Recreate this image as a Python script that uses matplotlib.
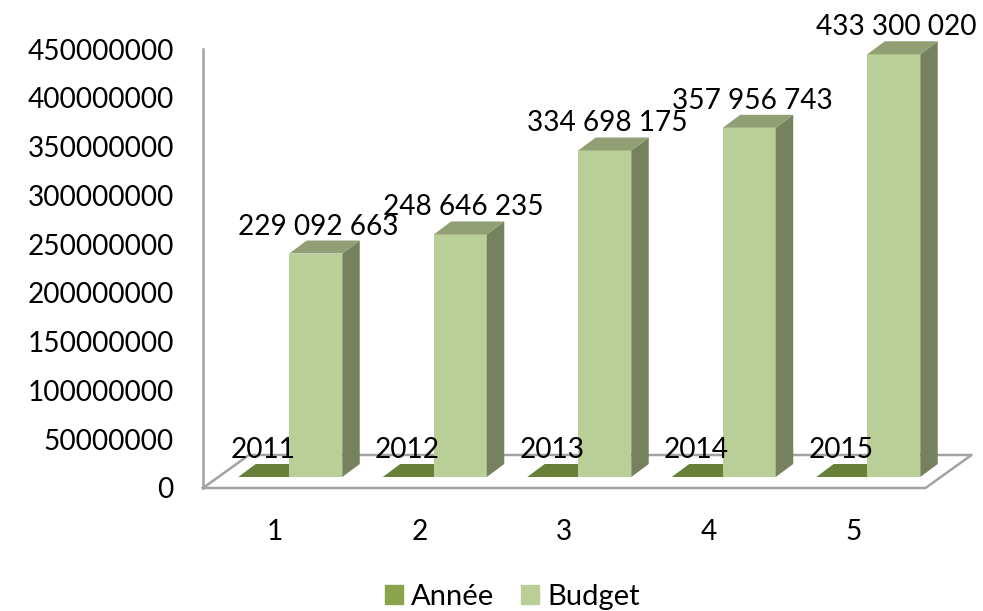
import matplotlib
matplotlib.use("Agg")
import matplotlib.pyplot as plt
from matplotlib.patches import Patch

categories = [1, 2, 3, 4, 5]
annee = [2011, 2012, 2013, 2014, 2015]
budget = [229092663, 248646235, 334698175, 357956743, 433300020]
budget_labels = ["229 092 663", "248 646 235", "334 698 175", "357 956 743", "433 300 020"]
y_ticks = [0, 50000000, 100000000, 150000000, 200000000, 250000000,
           300000000, 350000000, 400000000, 450000000]

W, H = 983, 611
plt.rcParams["font.family"] = ["Lato", "DejaVu Sans"]
FS = 20.2
GREY = "#A2A2A2"

fig = plt.figure(figsize=(W / 100, H / 100), dpi=100)
ax = fig.add_axes([203 / W, 1 - 488 / H, 722.5 / W, 439 / H])
ax.set_xlim(0.5, 5.5)
ax.set_ylim(0, 450000000)

# pixel sizes of the fake 3d look, turned into data units
PX_X = 1 / 144.5
PX_Y = 450000000 / 439
base = 11 * PX_Y
depth_x, depth_y = 17.5 * PX_X, 13 * PX_Y
bar_w = 53 * PX_X
off_budget = 14 * PX_X
off_annee = -37 * PX_X

# floor, behind the bars
floor_x = 46 * PX_X
floor_y = 33 * PX_Y
ax.plot([0.5, 5.5, 5.5 + floor_x, 0.5 + floor_x, 0.5],
        [0, 0, floor_y, floor_y, 0], color=GREY, lw=1.8, clip_on=False, zorder=1)

def box(x, val, front, side, top):
    b, t = base, base + val
    l, r = x, x + bar_w
    ax.fill([l, r, r, l], [b, b, t, t], color=front, lw=0, clip_on=False, zorder=3)
    ax.fill([r, r + depth_x, r + depth_x, r], [b, b + depth_y, t + depth_y, t],
            color=side, lw=0, clip_on=False, zorder=3)
    ax.fill([l, r, r + depth_x, l + depth_x], [t, t, t + depth_y, t + depth_y],
            color=top, lw=0, clip_on=False, zorder=3)

for c, a, b in zip(categories, annee, budget):
    box(c + off_annee, a, "#677F36", "#566A2D", "#677F36")
    box(c + off_budget, b, "#B9CF97", "#76825E", "#929F74")

for c, a, b, lbl in zip(categories, annee, budget, budget_labels):
    ax.annotate(str(a), (c + off_annee + bar_w / 2, base + a), xytext=(-2, 27),
                textcoords="offset pixels", ha="center", va="center",
                fontsize=FS, color="black", zorder=5, annotation_clip=False)
    ax.annotate(lbl, (c + off_budget + bar_w / 2, base + b), xytext=(3, 27),
                textcoords="offset pixels", ha="center", va="center",
                fontsize=FS, color="black", zorder=5, annotation_clip=False)

for s in ["top", "right", "bottom"]:
    ax.spines[s].set_visible(False)
ax.spines["left"].set_color(GREY)
ax.spines["left"].set_linewidth(1.8)
ax.patch.set_visible(False)

ax.set_yticks(y_ticks)
ax.set_yticklabels([str(v) for v in y_ticks], fontsize=FS)
ax.set_xticks(categories)
ax.set_xticklabels([str(c) for c in categories], fontsize=FS)
ax.tick_params(axis="y", length=0, pad=21)
ax.tick_params(axis="x", length=0, pad=22)

handles = [Patch(color="#8BA44B", label="Année"), Patch(color="#B9CF97", label="Budget")]
fig.legend(handles=handles, loc="center", bbox_to_anchor=(512.5 / W, 1 - 597 / H), ncol=2,
           frameon=False, fontsize=21, handlelength=0.62, handleheight=0.62,
           handletextpad=0.28, columnspacing=0.92, borderpad=0)

plt.savefig("out.png", dpi=100)
